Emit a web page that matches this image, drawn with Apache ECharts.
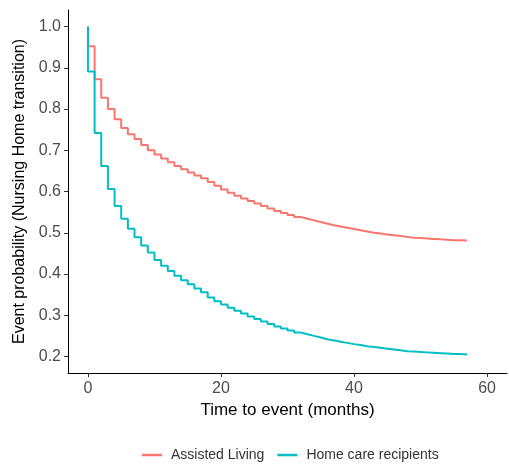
<!DOCTYPE html>
<html>
<head>
<meta charset="utf-8">
<script src="https://cdn.jsdelivr.net/npm/echarts@6/dist/echarts.min.js"></script>
<style>
html,body{margin:0;padding:0;background:#fff;}
#c{width:509px;height:473px;}
</style>
</head>
<body>
<div id="c"></div>
<script>
const seriesNames = ['Assisted Living', 'Home care recipients'];
const months = [0,1,2,3,4,5,6,7,8,9,10,11,12,13,14,15,16,17,18,19,20,21,22,23,24,25,26,27,28,29,30,31,32,33,34,35,36,37,38,39,40,41,42,43,44,45,46,47,48,49,50,51,52,53,54,55,56,57];
const assistedLiving = [0.952,0.872,0.827,0.800,0.775,0.754,0.739,0.727,0.713,0.700,0.690,0.680,0.671,0.662,0.654,0.646,0.639,0.632,0.623,0.614,0.605,0.597,0.590,0.583,0.577,0.571,0.565,0.559,0.553,0.548,0.543,0.538,0.534,0.530,0.526,0.522,0.518,0.515,0.512,0.509,0.506,0.503,0.500,0.498,0.496,0.494,0.492,0.490,0.488,0.487,0.486,0.485,0.484,0.483,0.482,0.482,0.481,0.481];
const homeCare = [0.891,0.742,0.662,0.606,0.565,0.534,0.510,0.489,0.469,0.452,0.434,0.420,0.407,0.396,0.385,0.375,0.365,0.356,0.343,0.334,0.326,0.318,0.311,0.304,0.297,0.291,0.285,0.279,0.273,0.268,0.263,0.258,0.254,0.250,0.246,0.242,0.239,0.236,0.233,0.230,0.228,0.225,0.223,0.221,0.219,0.217,0.215,0.213,0.212,0.211,0.210,0.209,0.208,0.207,0.206,0.206,0.205,0.205];
const startValue = 1.0;
const xTicks = [0, 20, 40, 60];
const yTicks = [0.2, 0.3, 0.4, 0.5, 0.6, 0.7, 0.8, 0.9, 1.0];
const colors = ['#F8766D', '#00BFC4'];

function toPoints(vals) {
  const pts = [[months[0], startValue]];
  for (let i = 0; i < months.length; i++) pts.push([months[i], vals[i]]);
  return pts;
}

const FONT = 'Liberation Sans, Arial, sans-serif';
const chart = echarts.init(document.getElementById('c'), null, {renderer: 'canvas'});
chart.setOption({
  animation: false,
  backgroundColor: '#ffffff',
  grid: {left: 68, right: 2, top: 10, bottom: 100, containLabel: false},
  legend: {
    data: seriesNames,
    left: 142, top: 448, padding: 0,
    icon: 'rect', itemWidth: 20, itemHeight: 2.5, itemGap: 13,
    textStyle: {fontFamily: FONT, fontSize: 14, color: '#333333', padding: [0,0,0,4]}
  },
  xAxis: {
    type: 'value', min: -3, max: 63,
    name: 'Time to event (months)', nameLocation: 'middle', nameGap: 29,
    nameTextStyle: {fontFamily: FONT, fontSize: 17, color: '#000'},
    splitLine: {show: false},
    axisLine: {show: true, onZero: false, lineStyle: {color: '#000', width: 1}},
    axisTick: {show: true, length: 4, customValues: xTicks, lineStyle: {color: '#333'}},
    axisLabel: {customValues: xTicks, fontFamily: FONT, fontSize: 16, color: '#4d4d4d', margin: 8}
  },
  yAxis: {
    type: 'value', min: 0.16, max: 1.04,
    name: 'Event probability (Nursing Home transition)', nameLocation: 'middle', nameGap: 35,
    nameTextStyle: {fontFamily: FONT, fontSize: 16, color: '#000'},
    splitLine: {show: false},
    axisLine: {show: true, onZero: false, lineStyle: {color: '#000', width: 1}},
    axisTick: {show: true, length: 4, customValues: yTicks, lineStyle: {color: '#333'}},
    axisLabel: {customValues: yTicks, fontFamily: FONT, fontSize: 16, color: '#4d4d4d', margin: 7,
      formatter: v => v.toFixed(1)}
  },
  series: [
    {name: seriesNames[0], type: 'line', step: 'end', showSymbol: false, symbol: 'none',
     data: toPoints(assistedLiving), lineStyle: {color: colors[0], width: 2}, itemStyle: {color: colors[0]}},
    {name: seriesNames[1], type: 'line', step: 'end', showSymbol: false, symbol: 'none',
     data: toPoints(homeCare), lineStyle: {color: colors[1], width: 2}, itemStyle: {color: colors[1]}}
  ]
});
</script>
</body>
</html>
